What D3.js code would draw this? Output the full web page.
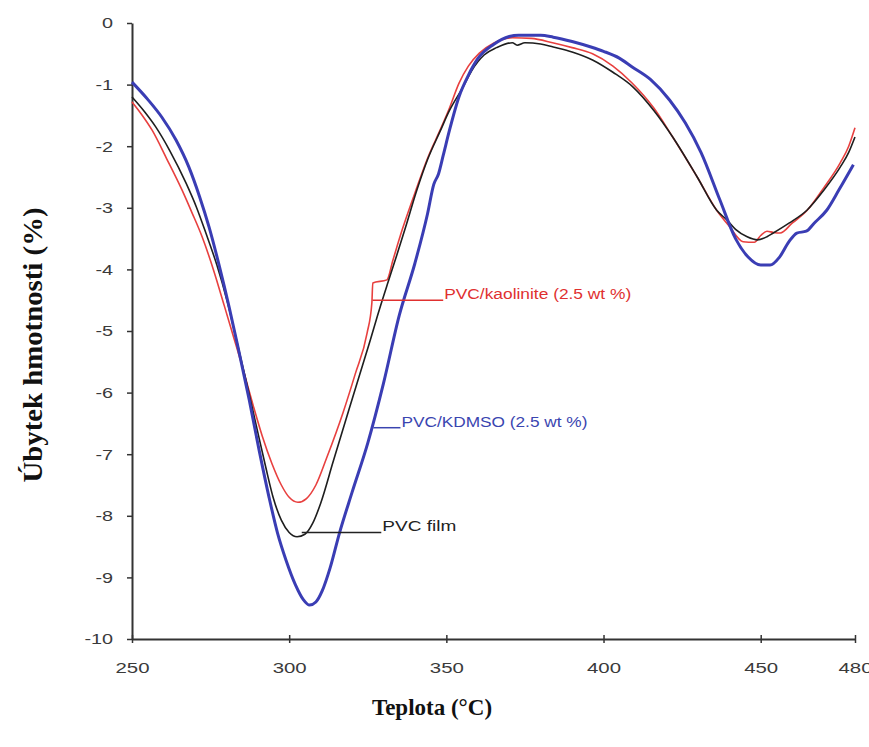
<!DOCTYPE html>
<html>
<head>
<meta charset="utf-8">
<script src="https://cdn.jsdelivr.net/npm/d3@7"></script>
<style>
  html, body { margin: 0; padding: 0; background: #fff; }
  svg { display: block; }
</style>
</head>
<body>
<svg id="chart" width="869" height="747"></svg>
<script>
// Thermogravimetric derivative curves: temperature (°C) vs. mass loss (%)
const xTicks = [250, 300, 350, 400, 450, 480];
const yTicks = [0, -1, -2, -3, -4, -5, -6, -7, -8, -9, -10];

// PVC film
const pvcFilm = [
  [250,-1.2],[254,-1.44],[257.6,-1.69],[262,-2.07],[267.2,-2.6],[270.5,-2.99],[273.5,-3.41],
  [277,-3.93],[280.2,-4.5],[283.5,-5.2],[286.5,-5.85],[289.5,-6.53],[292.5,-7.2],[295,-7.72],
  [297.5,-8.07],[300,-8.27],[302.5,-8.34],[305,-8.3],[307.5,-8.12],[310,-7.8],[314,-7.12],
  [319,-6.28],[322,-5.78],[325.5,-5.2],[328.7,-4.65],[331.5,-4.2],[334.3,-3.76],
  [337,-3.32],[340.7,-2.7],[344,-2.22],[348,-1.76],[351,-1.42],[355.3,-1.04],[358,-0.78],
  [362,-0.52],[366,-0.4],[371,-0.32],[372.5,-0.36],[375,-0.32],[380,-0.34],[384,-0.39],
  [390,-0.47],[396.5,-0.6],[403,-0.8],[409.4,-1.04],[416,-1.42],[422,-1.85],[429.8,-2.5],
  [436,-3.04],[439.3,-3.2],[442,-3.35],[445.7,-3.47],[449,-3.52],[452,-3.47],[454,-3.41],
  [459,-3.25],[464.7,-3.04],[470,-2.72],[475.3,-2.34],[478,-2.1],[480,-1.85]
];

// PVC/kaolinite (2.5 wt %)
const pvcKaolinite = [
  [250,-1.28],[253,-1.48],[256.4,-1.74],[261,-2.2],[265.9,-2.71],[269,-3.07],[272.3,-3.47],
  [276,-4.02],[279.3,-4.58],[282.5,-5.13],[285.5,-5.65],[288.5,-6.2],[291.4,-6.7],[294.5,-7.15],
  [297.5,-7.5],[300,-7.7],[302.8,-7.78],[305.5,-7.72],[308.5,-7.5],[312,-7.05],[317.1,-6.33],
  [321,-5.7],[324.8,-5.03],[326.3,-4.55],[326.6,-4.22],[331.1,-4.17],[333,-3.85],
  [336,-3.35],[340.7,-2.66],[344,-2.2],[348,-1.74],[351,-1.38],[354,-0.98],[357,-0.7],
  [360.5,-0.49],[365,-0.33],[371,-0.24],[377,-0.25],[383.8,-0.32],[390,-0.4],[396.5,-0.5],
  [403,-0.7],[409,-0.97],[416,-1.38],[422,-1.85],[429.8,-2.5],[436,-3.04],[440,-3.3],
  [444.4,-3.55],[448,-3.56],[450,-3.45],[452,-3.38],[454,-3.4],[456.2,-3.41],[460,-3.25],
  [464.8,-3.04],[470,-2.68],[475.3,-2.27],[478,-2.0],[480,-1.7]
];

// PVC/KDMSO (2.5 wt %)
const pvcKdmso = [
  [250,-0.96],[255,-1.24],[259.5,-1.53],[264,-1.9],[268.1,-2.34],[271.5,-2.82],[274.5,-3.31],
  [277.8,-3.95],[280.9,-4.61],[284,-5.33],[287.3,-6.12],[290.5,-6.95],[293.6,-7.7],[296.3,-8.28],
  [299,-8.72],[302,-9.12],[304.5,-9.36],[306.5,-9.45],[308.5,-9.4],[310.5,-9.22],[313,-8.85],
  [316,-8.28],[320,-7.62],[325,-6.82],[330,-5.85],[335,-4.75],[340,-3.9],[344,-3.1],
  [346,-2.62],[347.5,-2.45],[349,-2.15],[351,-1.74],[354,-1.2],[357,-0.85],[360,-0.58],
  [365,-0.35],[370,-0.22],[373,-0.2],[380,-0.2],[384,-0.23],[390,-0.3],[396,-0.39],
  [400,-0.46],[405,-0.57],[409,-0.71],[415,-0.92],[421,-1.25],[426,-1.62],[431,-2.1],
  [437,-2.87],[442,-3.5],[446,-3.8],[450,-3.93],[453,-3.93],[456,-3.8],[459,-3.55],
  [461.5,-3.41],[464.5,-3.38],[467,-3.25],[471,-3.04],[475,-2.7],[479.5,-2.3]
];

// Callout labels: text, leader start (°C, %), leader end (°C), text width
const calloutText = ["PVC/kaolinite (2.5 wt %)", "PVC/KDMSO (2.5 wt %)", "PVC film"];
const calloutStart = [[326.5, -4.5], [326.8, -6.57], [304, -8.27]];
const calloutEndT = [349, 335.4, 329.3];
const calloutWidth = [187, 186, 74];

const svg = d3.select("#chart");

const x = d3.scaleLinear().domain([250, 480]).range([132, 855]);
const y = d3.scaleLinear().domain([-10, 0]).range([639, 23]);

const axisColor = "#333";
const tickFont = "'Liberation Sans', Arial, sans-serif";
const titleFont = "'Liberation Serif', 'Times New Roman', serif";

// stretch tick labels horizontally
function widen(sel, k) {
  sel.each(function() {
    const w = this.getComputedTextLength();
    d3.select(this).attr("textLength", w * k).attr("lengthAdjust", "spacingAndGlyphs");
  });
}

// Y axis
const gy = svg.append("g")
  .attr("transform", `translate(${x(250)},0)`)
  .call(d3.axisLeft(y).tickValues(yTicks).tickFormat(d3.format("d")).tickSize(5).tickSizeOuter(0).tickPadding(14));
gy.select(".domain").attr("stroke", axisColor).attr("stroke-width", 2);
gy.selectAll(".tick line").attr("stroke", axisColor).attr("stroke-width", 1.5);
gy.selectAll(".tick text")
  .attr("fill", "#3a3a3a").style("font-family", tickFont).style("font-size", "15px")
  .text(d => d === 0 ? "0" : "-" + Math.abs(d));
widen(gy.selectAll(".tick text"), 1.32);

// X axis
const gx = svg.append("g")
  .attr("transform", `translate(0,${y(-10)})`)
  .call(d3.axisBottom(x).tickValues(xTicks).tickFormat(d3.format("d")).tickSize(4).tickSizeOuter(0).tickPadding(19));
gx.select(".domain").attr("stroke", axisColor).attr("stroke-width", 2);
gx.selectAll(".tick line").attr("stroke", axisColor).attr("stroke-width", 1.5).attr("y1", -4);
gx.selectAll(".tick text")
  .attr("fill", "#3a3a3a").style("font-family", tickFont).style("font-size", "15px");
widen(gx.selectAll(".tick text"), 1.36);

// Curves
const line = d3.line().x(d => x(d[0])).y(d => y(d[1])).curve(d3.curveMonotoneX);

svg.append("path").datum(pvcKaolinite)
  .attr("fill", "none").attr("stroke", "#e8403f").attr("stroke-width", 1.6)
  .attr("stroke-linejoin", "round").attr("d", line);
svg.append("path").datum(pvcFilm)
  .attr("fill", "none").attr("stroke", "#1e1e1e").attr("stroke-width", 1.6)
  .attr("stroke-linejoin", "round").attr("d", line);
svg.append("path").datum(pvcKdmso)
  .attr("fill", "none").attr("stroke", "#3a3db4").attr("stroke-width", 3)
  .attr("stroke-linejoin", "round").attr("d", line);

// Callouts
const calloutColor = ["#e0302f", "#3a45b0", "#222"];
calloutText.forEach((t, i) => {
  const [t0, v0] = calloutStart[i];
  svg.append("line")
    .attr("x1", x(t0)).attr("x2", x(calloutEndT[i]))
    .attr("y1", y(v0)).attr("y2", y(v0))
    .attr("stroke", calloutColor[i]).attr("stroke-width", 1.5);
  svg.append("text")
    .attr("x", x(calloutEndT[i]) + 1).attr("y", y(v0) - 1)
    .attr("fill", calloutColor[i])
    .style("font-family", tickFont).style("font-size", "14px")
    .attr("textLength", calloutWidth[i]).attr("lengthAdjust", "spacingAndGlyphs")
    .text(t);
});

// Axis titles
svg.append("text")
  .attr("x", 432).attr("y", 715)
  .attr("text-anchor", "middle")
  .style("font-family", titleFont)
  .style("font-weight", "bold").style("font-size", "23px")
  .attr("fill", "#111")
  .text("Teplota (°C)");

svg.append("text")
  .attr("transform", "translate(42,345) rotate(-90)")
  .attr("text-anchor", "middle")
  .style("font-family", titleFont)
  .style("font-weight", "bold").style("font-size", "27px")
  .attr("fill", "#111")
  .attr("textLength", 275).attr("lengthAdjust", "spacingAndGlyphs")
  .text("Úbytek hmotnosti (%)");
</script>
</body>
</html>
